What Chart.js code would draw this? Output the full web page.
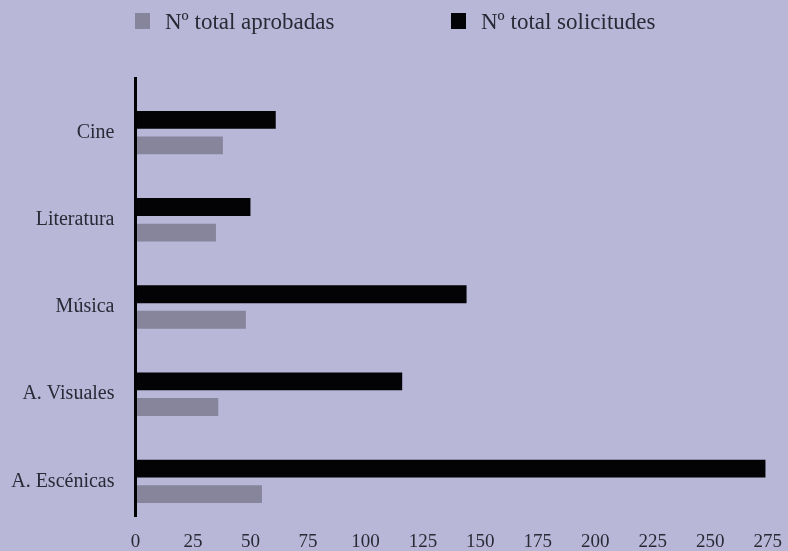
<!DOCTYPE html>
<html lang="es">
<head>
    <meta charset="UTF-8">
    <title>Solicitudes y aprobadas por disciplina</title>
    <script src="https://cdn.jsdelivr.net/npm/chart.js"></script>
    <style>
        html, body { margin: 0; padding: 0; background: #b9b7d8; }
    </style>
</head>
<body>
    <canvas id="chart" width="788" height="551"></canvas>

    <script>
        // datos
        const categorias = ['Cine', 'Literatura', 'Música', 'A. Visuales', 'A. Escénicas'];
        const solicitudes = [61, 50, 144, 116, 274];
        const aprobadas = [38, 35, 48, 36, 55];
        const ticksX = [0, 25, 50, 75, 100, 125, 150, 175, 200, 225, 250, 275];
        const nombreAprobadas = 'Nº total aprobadas';
        const nombreSolicitudes = 'Nº total solicitudes';

        const colorAprobadas = '#86859b';
        const colorSolicitudes = '#030306';
        const colorTexto = '#2a2a36';
        const serif = "'Liberation Serif', 'DejaVu Serif', serif";

        // leyenda dibujada a mano: aprobadas primero, solicitudes después
        const leyenda = {
            id: 'leyenda',
            afterDraw(chart) {
                const ctx = chart.ctx;
                const items = [[nombreAprobadas, colorAprobadas, 135], [nombreSolicitudes, colorSolicitudes, 451]];
                ctx.save();
                ctx.font = '23px ' + serif;
                ctx.textBaseline = 'alphabetic';
                ctx.textAlign = 'left';
                items.forEach(([name, color, x]) => {
                    ctx.fillStyle = color;
                    ctx.fillRect(x, 13, 15, 16);
                    ctx.fillStyle = colorTexto;
                    ctx.fillText(name, x + 30, 29);
                });
                ctx.restore();
            }
        };

        // línea del eje y, algo más larga que el área
        const axisLine = {
            id: 'axisLine',
            afterDatasetsDraw(chart) {
                const ctx = chart.ctx;
                const a = chart.chartArea;
                ctx.save();
                ctx.strokeStyle = '#000';
                ctx.lineWidth = 3;
                ctx.beginPath();
                ctx.moveTo(a.left, a.top - 12);
                ctx.lineTo(a.left, a.bottom - 8);
                ctx.stroke();
                ctx.restore();
            }
        };

        new Chart(document.getElementById('chart'), {
            type: 'bar',
            data: {
                labels: categorias,
                datasets: [
                    { label: nombreSolicitudes, data: solicitudes, backgroundColor: colorSolicitudes },
                    { label: nombreAprobadas, data: aprobadas, backgroundColor: colorAprobadas }
                ]
            },
            options: {
                indexAxis: 'y',
                responsive: false,
                animation: false,
                categoryPercentage: 0.585,
                barPercentage: 0.7,
                layout: { padding: { top: 89, right: 20, bottom: 0, left: 0 } },
                plugins: {
                    legend: { display: false },
                    tooltip: { enabled: false }
                },
                scales: {
                    x: {
                        min: 0,
                        max: 275,
                        afterBuildTicks(scale) { scale.ticks = ticksX.map(v => ({ value: v })); },
                        afterFit(scale) { scale.height = 26; },
                        grid: { display: false, drawTicks: false },
                        border: { display: false },
                        ticks: { padding: 6, color: colorTexto, font: { family: serif, size: 19 } }
                    },
                    y: {
                        afterFit(scale) {
                            scale.width = 135.5;
                            scale.paddingTop = 0;
                            scale.paddingBottom = 0;
                        },
                        grid: { display: false, drawTicks: false },
                        border: { display: false },
                        ticks: { padding: 21, color: colorTexto, font: { family: serif, size: 20 } }
                    }
                }
            },
            plugins: [axisLine, leyenda]
        });
    </script>
</body>
</html>
